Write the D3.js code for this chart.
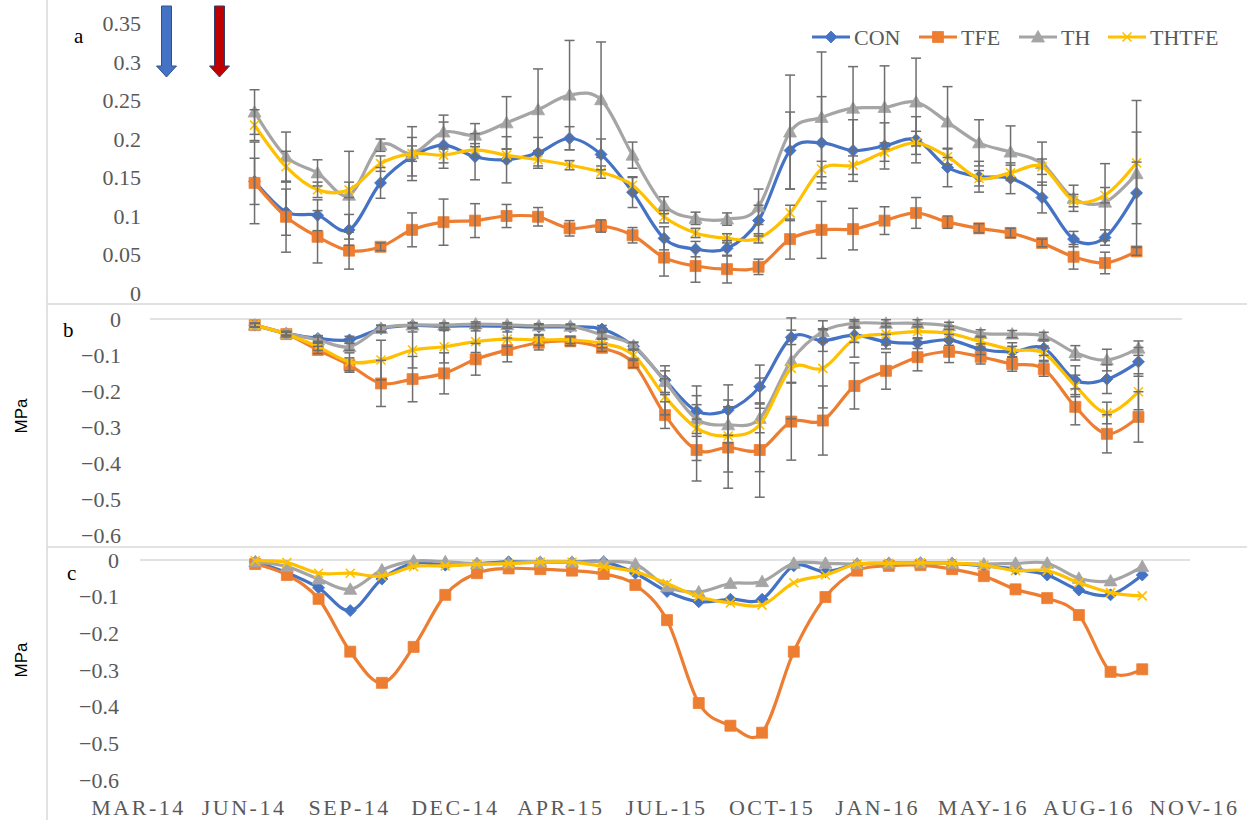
<!DOCTYPE html>
<html>
<head>
<meta charset="utf-8">
<script src="https://cdn.jsdelivr.net/npm/d3@7"></script>
<style>
  body { margin: 0; background: #fff; }
  svg { display: block; }
</style>
</head>
<body>
<svg width="1247" height="820"></svg>
<script>
// sampling dates (roughly every 30 days)
var sampleDates = ["2014-06-20", "2014-07-20", "2014-08-19", "2014-09-18", "2014-10-18", "2014-11-17",
  "2014-12-17", "2015-01-16", "2015-02-15", "2015-03-17", "2015-04-16", "2015-05-16", "2015-06-15",
  "2015-07-15", "2015-08-14", "2015-09-13", "2015-10-13", "2015-11-12", "2015-12-12", "2016-01-11",
  "2016-02-10", "2016-03-11", "2016-04-10", "2016-05-10", "2016-06-09", "2016-07-09", "2016-08-08",
  "2016-09-07", "2016-10-07"];

var tickDates = ["2014-03-01", "2014-06-09", "2014-09-17", "2014-12-26", "2015-04-05", "2015-07-14",
  "2015-10-22", "2016-01-30", "2016-05-09", "2016-08-17", "2016-11-25"];
var tickLabels = ["MAR-14", "JUN-14", "SEP-14", "DEC-14", "APR-15", "JUL-15", "OCT-15", "JAN-16",
  "MAY-16", "AUG-16", "NOV-16"];

var seriesNames = ["CON", "TFE", "TH", "THTFE"];

// panel a
var aCON   = [0.145, 0.105, 0.101, 0.082, 0.143, 0.177, 0.192, 0.177, 0.173, 0.182, 0.201, 0.180, 0.131, 0.071, 0.057, 0.058, 0.094, 0.185, 0.195, 0.185, 0.191, 0.199, 0.163, 0.151, 0.149, 0.124, 0.070, 0.072, 0.130];
var aTFE   = [0.143, 0.099, 0.073, 0.055, 0.060, 0.082, 0.092, 0.094, 0.100, 0.099, 0.084, 0.087, 0.075, 0.046, 0.035, 0.031, 0.034, 0.070, 0.082, 0.083, 0.094, 0.104, 0.092, 0.084, 0.078, 0.065, 0.047, 0.039, 0.054];
var aTH    = [0.235, 0.177, 0.156, 0.127, 0.192, 0.181, 0.209, 0.205, 0.221, 0.238, 0.257, 0.251, 0.179, 0.114, 0.097, 0.096, 0.112, 0.209, 0.228, 0.240, 0.241, 0.248, 0.222, 0.195, 0.183, 0.168, 0.123, 0.118, 0.155];
var aTHTFE = [0.218, 0.164, 0.134, 0.134, 0.168, 0.181, 0.179, 0.186, 0.179, 0.173, 0.166, 0.157, 0.140, 0.099, 0.078, 0.071, 0.071, 0.104, 0.161, 0.166, 0.183, 0.195, 0.177, 0.149, 0.156, 0.164, 0.120, 0.127, 0.169];

var aCONerr   = [0.030, 0.030, 0.020, 0.020, 0.020, 0.025, 0.030, 0.030, 0.030, 0.020, 0.015, 0.020, 0.020, 0.015, 0.010, 0.010, 0.020, 0.050, 0.060, 0.040, 0.030, 0.030, 0.025, 0.020, 0.020, 0.020, 0.010, 0.010, 0.040];
var aTFEerr   = [0.053, 0.046, 0.034, 0.024, 0.005, 0.022, 0.030, 0.022, 0.015, 0.012, 0.010, 0.008, 0.010, 0.024, 0.021, 0.018, 0.010, 0.026, 0.037, 0.027, 0.018, 0.020, 0.008, 0.006, 0.006, 0.005, 0.016, 0.014, 0.005];
var aTHerr    = [0.029, 0.032, 0.017, 0.057, 0.008, 0.035, 0.022, 0.015, 0.034, 0.053, 0.071, 0.075, 0.017, 0.011, 0.008, 0.008, 0.023, 0.074, 0.085, 0.054, 0.054, 0.057, 0.046, 0.030, 0.034, 0.028, 0.017, 0.050, 0.095];
var aTHTFEerr = [0.020, 0.020, 0.010, 0.010, 0.010, 0.010, 0.010, 0.008, 0.008, 0.008, 0.006, 0.008, 0.010, 0.008, 0.006, 0.006, 0.006, 0.010, 0.010, 0.012, 0.012, 0.015, 0.010, 0.010, 0.010, 0.010, 0.008, 0.010, 0.040];

// panel b
var bCON   = [-0.017, -0.040, -0.054, -0.058, -0.027, -0.018, -0.020, -0.019, -0.020, -0.022, -0.022, -0.028, -0.076, -0.170, -0.256, -0.253, -0.188, -0.051, -0.060, -0.045, -0.063, -0.067, -0.058, -0.084, -0.091, -0.081, -0.170, -0.167, -0.119];
var bTFE   = [-0.017, -0.042, -0.086, -0.128, -0.179, -0.167, -0.151, -0.112, -0.086, -0.066, -0.062, -0.080, -0.123, -0.267, -0.364, -0.357, -0.364, -0.285, -0.282, -0.186, -0.144, -0.106, -0.091, -0.105, -0.125, -0.139, -0.244, -0.319, -0.272];
var bTH    = [-0.017, -0.040, -0.058, -0.077, -0.026, -0.017, -0.017, -0.014, -0.016, -0.019, -0.020, -0.044, -0.074, -0.174, -0.278, -0.294, -0.276, -0.116, -0.035, -0.012, -0.012, -0.012, -0.019, -0.040, -0.042, -0.047, -0.094, -0.114, -0.081];
var bTHTFE = [-0.017, -0.042, -0.077, -0.119, -0.114, -0.086, -0.077, -0.063, -0.056, -0.058, -0.058, -0.068, -0.100, -0.216, -0.303, -0.325, -0.294, -0.137, -0.137, -0.056, -0.042, -0.035, -0.040, -0.063, -0.086, -0.095, -0.186, -0.261, -0.202];

var bCONerr   = [0.005, 0.005, 0.008, 0.010, 0.010, 0.008, 0.008, 0.006, 0.006, 0.006, 0.006, 0.010, 0.010, 0.040, 0.070, 0.070, 0.060, 0.020, 0.030, 0.020, 0.020, 0.015, 0.015, 0.015, 0.015, 0.020, 0.040, 0.040, 0.040];
var bTFEerr   = [0.005, 0.008, 0.010, 0.020, 0.064, 0.063, 0.057, 0.044, 0.033, 0.020, 0.012, 0.010, 0.012, 0.037, 0.086, 0.113, 0.131, 0.107, 0.096, 0.064, 0.051, 0.038, 0.030, 0.020, 0.020, 0.020, 0.050, 0.053, 0.070];
var bTHerr    = [0.005, 0.005, 0.008, 0.010, 0.008, 0.006, 0.006, 0.006, 0.006, 0.006, 0.006, 0.010, 0.010, 0.030, 0.040, 0.050, 0.040, 0.060, 0.030, 0.010, 0.010, 0.010, 0.010, 0.010, 0.010, 0.010, 0.020, 0.030, 0.020];
var bTHTFEerr = [0.005, 0.005, 0.010, 0.025, 0.055, 0.050, 0.045, 0.030, 0.020, 0.015, 0.010, 0.012, 0.015, 0.050, 0.090, 0.100, 0.130, 0.140, 0.110, 0.050, 0.030, 0.020, 0.020, 0.015, 0.020, 0.020, 0.030, 0.030, 0.050];

// panel c (no error bars)
var cCON   = [-0.005, -0.035, -0.076, -0.138, -0.052, -0.009, -0.014, -0.010, -0.005, -0.006, -0.006, -0.005, -0.036, -0.086, -0.114, -0.107, -0.107, -0.016, -0.032, -0.011, -0.009, -0.008, -0.009, -0.016, -0.025, -0.041, -0.082, -0.095, -0.041];
var cTFE   = [-0.011, -0.041, -0.106, -0.250, -0.335, -0.237, -0.095, -0.036, -0.023, -0.025, -0.029, -0.038, -0.068, -0.164, -0.390, -0.452, -0.471, -0.250, -0.101, -0.029, -0.016, -0.014, -0.025, -0.044, -0.080, -0.104, -0.150, -0.305, -0.298];
var cTH    = [-0.005, -0.018, -0.052, -0.080, -0.027, -0.003, -0.005, -0.010, -0.008, -0.006, -0.006, -0.005, -0.011, -0.073, -0.087, -0.064, -0.059, -0.009, -0.009, -0.011, -0.009, -0.008, -0.009, -0.011, -0.009, -0.009, -0.050, -0.057, -0.018];
var cTHTFE = [-0.002, -0.007, -0.036, -0.036, -0.044, -0.018, -0.016, -0.012, -0.010, -0.006, -0.006, -0.018, -0.032, -0.064, -0.100, -0.117, -0.123, -0.062, -0.041, -0.011, -0.009, -0.008, -0.009, -0.014, -0.029, -0.029, -0.062, -0.089, -0.098];

var aTicks = [0, 0.05, 0.1, 0.15, 0.2, 0.25, 0.3, 0.35];
var bcTicks = [0, -0.1, -0.2, -0.3, -0.4, -0.5, -0.6];

var colors = {CON: "#4472C4", TFE: "#ED7D31", TH: "#A5A5A5", THTFE: "#FFC000"};
var serif = "'Liberation Serif', 'Times New Roman', serif";
var axisGray = "#595959";
var borderGray = "#d9d9d9";

var parseDate = d3.utcParse("%Y-%m-%d");
var dates = sampleDates.map(parseDate);
var ticks = tickDates.map(parseDate);

var svg = d3.select("svg");

// panel frame lines
svg.append("line").attr("x1", 47).attr("x2", 47).attr("y1", 0).attr("y2", 820)
  .attr("stroke", borderGray).attr("stroke-width", 1.5);
[304, 547].forEach(function (y) {
  svg.append("line").attr("x1", 47).attr("x2", 1247).attr("y1", y).attr("y2", y)
    .attr("stroke", borderGray).attr("stroke-width", 1.5);
});

var panels = [
  {name: "a", vals: [aCON, aTFE, aTH, aTHTFE], errs: [aCONerr, aTFEerr, aTHerr, aTHTFEerr],
   domain: [0, 0.35], range: [293, 23.5], ticks: aTicks, labelX: 141, xr: [138, 1188],
   letter: [74, 43], grid: null, mpa: null},
  {name: "b", vals: [bCON, bTFE, bTH, bTHTFE], errs: [bCONerr, bTFEerr, bTHerr, bTHTFEerr],
   domain: [-0.6, 0], range: [535, 319], ticks: bcTicks, labelX: 121, xr: [138, 1190],
   letter: [63, 337], grid: [150, 1182], mpa: 416},
  {name: "c", vals: [cCON, cTFE, cTH, cTHTFE], errs: null,
   domain: [-0.6, 0], range: [780, 560], ticks: bcTicks, labelX: 119, xr: [138, 1194],
   letter: [67, 580], grid: [140, 1190], mpa: 660}
];

function markerPath(name) {
  if (name === "CON") return "M0,-6L6,0L0,6L-6,0Z";
  if (name === "TFE") return "M-5.5,-5.5H5.5V5.5H-5.5Z";
  if (name === "TH") return "M0,-6.5L6.5,5L-6.5,5Z";
  return "M-4.5,-4.5L4.5,4.5M4.5,-4.5L-4.5,4.5";
}

function drawMarker(g, name, x, y) {
  var p = g.append("path").attr("d", markerPath(name))
    .attr("transform", "translate(" + x + "," + y + ")");
  if (name === "THTFE") {
    p.attr("fill", "none").attr("stroke", colors[name]).attr("stroke-width", 1.6);
  } else {
    p.attr("fill", colors[name]).attr("stroke", colors[name]).attr("stroke-width", 0.8);
  }
}

panels.forEach(function (p) {
  var x = d3.scaleUtc().domain([ticks[0], ticks[ticks.length - 1]]).range(p.xr);
  var y = d3.scaleLinear().domain(p.domain).range(p.range);
  var g = svg.append("g").attr("class", "panel-" + p.name);

  if (p.grid) {
    g.append("line").attr("x1", p.grid[0]).attr("x2", p.grid[1])
      .attr("y1", y(0)).attr("y2", y(0))
      .attr("stroke", borderGray).attr("stroke-width", 1.5);
  }

  // y tick labels
  var yAxis = g.append("g")
    .attr("transform", "translate(" + p.labelX + ",0)")
    .call(d3.axisLeft(y).tickValues(p.ticks).tickSize(0).tickPadding(0)
      .tickFormat(function (d) { return d3.format("")(+d.toFixed(2)); }));
  yAxis.select(".domain").remove();
  yAxis.selectAll("text").attr("fill", axisGray)
    .style("font-family", serif).style("font-size", "22px");

  // panel letter
  g.append("text").attr("x", p.letter[0]).attr("y", p.letter[1])
    .style("font-family", serif).style("font-size", "21px").attr("fill", "#000")
    .text(p.name);

  if (p.mpa) {
    g.append("text")
      .attr("transform", "translate(27," + p.mpa + ") rotate(-90)")
      .attr("text-anchor", "middle")
      .style("font-family", "'Liberation Sans', Arial, sans-serif").style("font-size", "17px")
      .attr("fill", "#000")
      .text("MPa");
  }

  var line = d3.line()
    .x(function (d, i) { return x(dates[i]); })
    .y(function (d) { return y(d); })
    .curve(d3.curveCardinal.tension(0));

  p.vals.forEach(function (vals, s) {
    var name = seriesNames[s];
    g.append("path").datum(vals)
      .attr("d", line)
      .attr("fill", "none")
      .attr("stroke", colors[name])
      .attr("stroke-width", 3.2)
      .attr("stroke-linejoin", "round");
    vals.forEach(function (v, i) { drawMarker(g, name, x(dates[i]), y(v)); });
  });

  // error bars on top
  if (p.errs) {
    p.errs.forEach(function (errs, s) {
      var vals = p.vals[s];
      errs.forEach(function (e, i) {
        var cx = x(dates[i]), y1 = y(vals[i] + e), y2 = y(vals[i] - e);
        var eg = g.append("g").attr("stroke", "#6e6e6e").attr("stroke-width", 1.5);
        eg.append("line").attr("x1", cx).attr("x2", cx).attr("y1", y1).attr("y2", y2);
        eg.append("line").attr("x1", cx - 5).attr("x2", cx + 5).attr("y1", y1).attr("y2", y1);
        eg.append("line").attr("x1", cx - 5).attr("x2", cx + 5).attr("y1", y2).attr("y2", y2);
      });
    });
  }

  // x axis labels only under the last panel
  if (p.name === "c") {
    var xAxis = g.append("g")
      .attr("transform", "translate(0,799)")
      .call(d3.axisBottom(x).tickValues(ticks).tickSize(0).tickPadding(0)
        .tickFormat(function (d, i) { return tickLabels[i]; }));
    xAxis.select(".domain").remove();
    xAxis.selectAll("text").attr("fill", axisGray)
      .style("font-family", serif).style("font-size", "22px")
      .style("letter-spacing", "2.5px");
  }
});

// treatment arrows at the top of panel a
function arrow(cx, fill, edge) {
  var w = 5, hw = 10, top = 6, neck = 66, tip = 77;
  svg.append("path")
    .attr("d", "M" + (cx - w) + "," + top + "V" + neck + "H" + (cx - hw) + "L" + cx + "," + tip +
      "L" + (cx + hw) + "," + neck + "H" + (cx + w) + "V" + top + "Z")
    .attr("fill", fill).attr("stroke", edge).attr("stroke-width", 1);
}
arrow(166.5, "#4472C4", "#2F528F");
arrow(219.5, "#C00000", "#2F3F6F");

// legend
var legendX = [812, 919, 1019, 1108];
var legend = svg.append("g").attr("transform", "translate(0,37)");
seriesNames.forEach(function (name, i) {
  var item = legend.append("g").attr("transform", "translate(" + legendX[i] + ",0)");
  item.append("line").attr("x1", 0).attr("x2", 38).attr("y1", 0).attr("y2", 0)
    .attr("stroke", colors[name]).attr("stroke-width", 3.2);
  drawMarker(item, name, 19, 0);
  item.append("text").attr("x", 42).attr("y", 8)
    .style("font-family", serif).style("font-size", "22px").attr("fill", axisGray)
    .text(name);
});
</script>
</body>
</html>
